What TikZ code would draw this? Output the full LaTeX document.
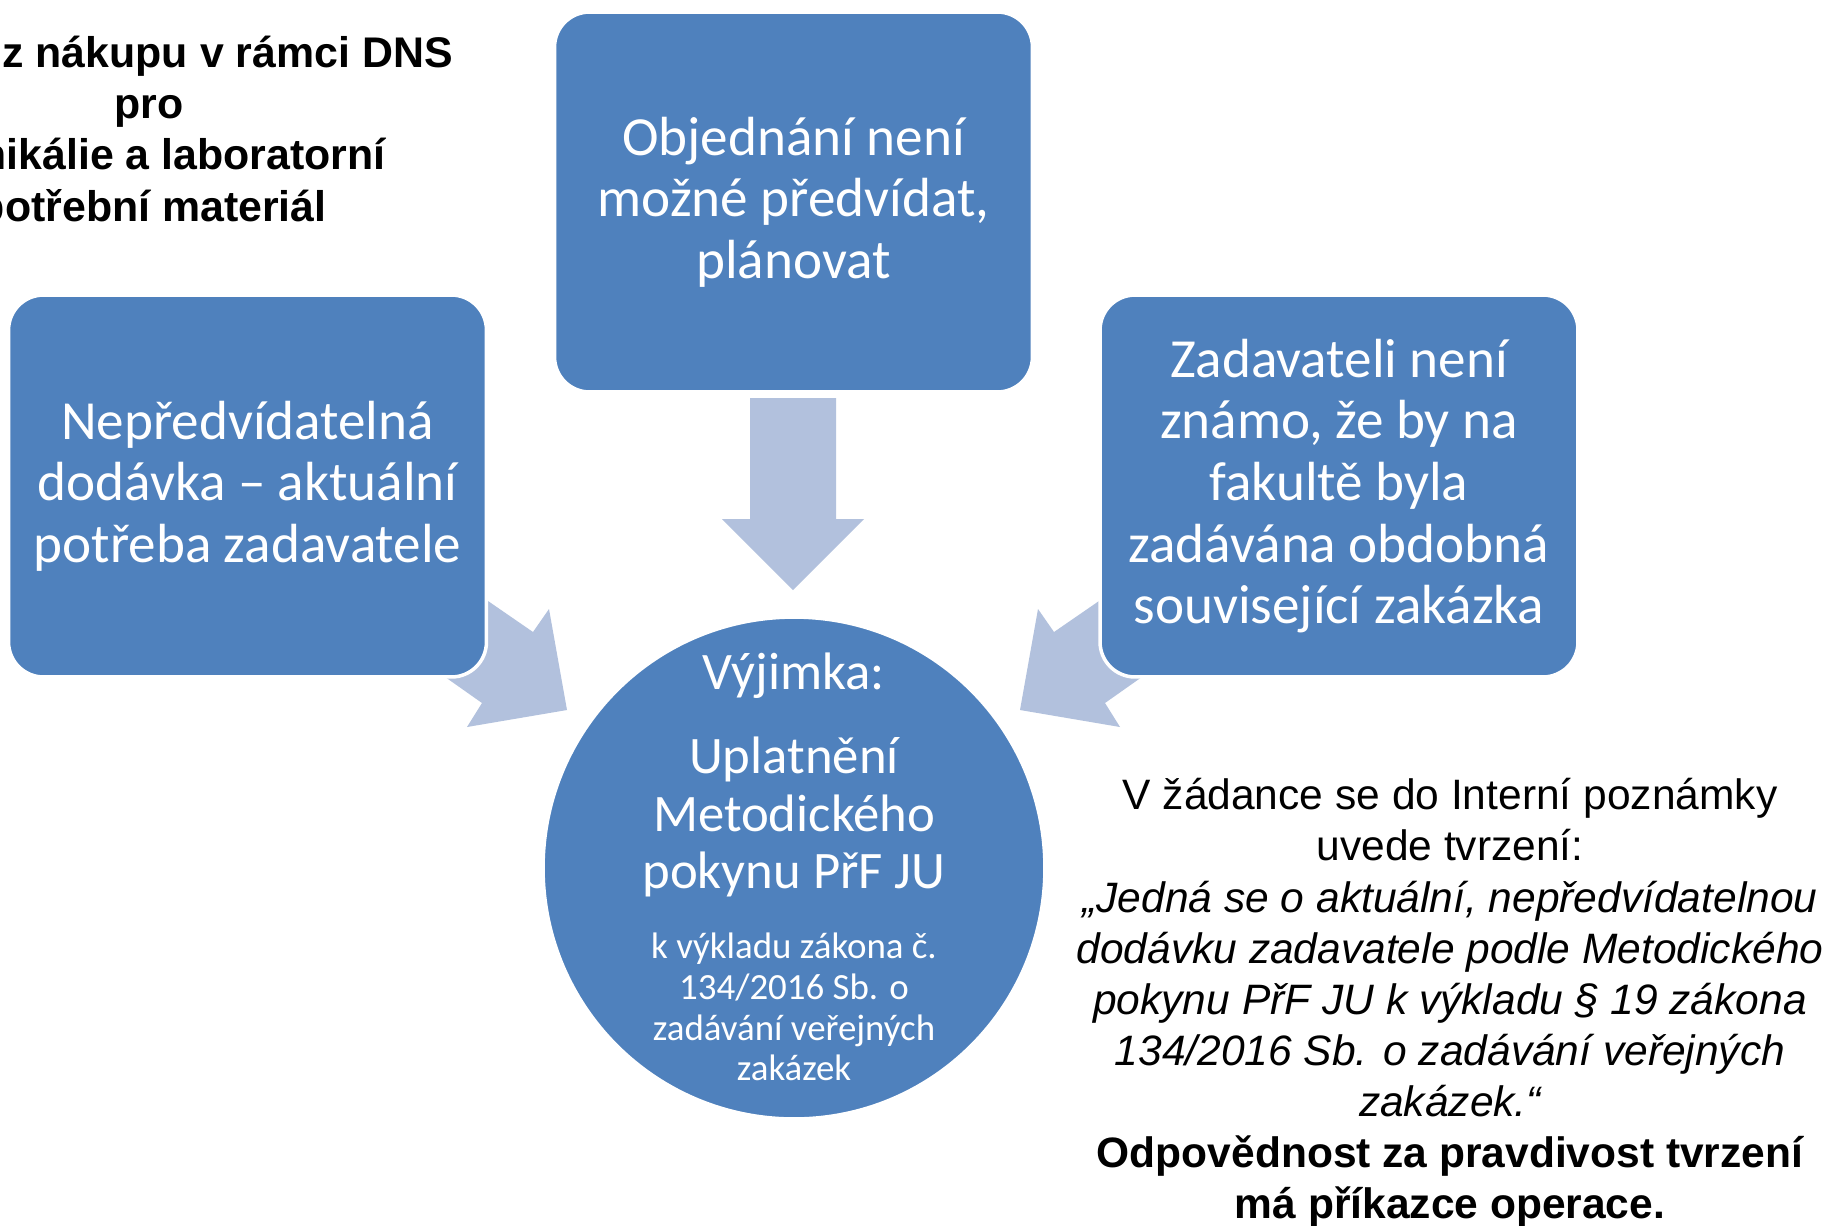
\documentclass[tikz,border=0pt]{standalone}
\usepackage{fontspec}
\setmainfont{Liberation Sans}
\newfontfamily\calfont{Carlito}
\definecolor{boxblue}{HTML}{4F81BD}
\definecolor{arrowblue}{HTML}{B2C1DD}
\begin{document}
\begin{tikzpicture}[x=0.02cm,y=-0.02cm,
  box/.style={rectangle, rounded corners=0.7cm, fill=boxblue, draw=white, line width=2pt,
    inner sep=0pt, text=white, align=center, font=\calfont\fontsize{31.4}{35.1}\selectfont},
  bigarrow/.style={fill=arrowblue, draw=none},
  ctext/.style={text=white, align=center, inner sep=0pt, font=\calfont\fontsize{30}{32.9}\selectfont},
  csmall/.style={text=white, align=center, inner sep=0pt, font=\calfont\fontsize{21}{23.2}\selectfont},
  toptext/.style={inner sep=0pt, font=\bfseries\fontsize{24.4}{28.9}\selectfont},
  note/.style={inner sep=0pt, align=center, font=\fontsize{24.2}{29.1}\selectfont}]
\useasboundingbox (0,0) rectangle (1829,1225);
\clip (0,0) rectangle (1829,1225);
\fill[white] (0,0) rectangle (1829,1225);

% block arrows
\fill[bigarrow] (750,398) -- (750,519) -- (722,519) -- (793,590) -- (864,519) -- (836,519) -- (836,398) -- cycle;
\fill[bigarrow] (443,570) -- (533,632) -- (549,609) -- (567,710) -- (467,727) -- (482,703) -- (404,648) -- cycle;
\fill[bigarrow] (1144,570) -- (1054,632) -- (1038,609) -- (1020,710) -- (1120,727) -- (1105,703) -- (1183,648) -- cycle;

% boxes
\node[box, minimum width=9.56cm, minimum height=7.6cm] (top) at (793.5,202)
  {Objednání není\\možné předvídat,\\plánovat};
\node[box, minimum width=9.56cm, minimum height=7.64cm] (left) at (247.5,486)
  {Nepředvídatelná\\dodávka – aktuální\\potřeba zadavatele};
\node[box, minimum width=9.56cm, minimum height=7.64cm] (right) at (1339,486)
  {Zadavateli není\\známo, že by na\\fakultě byla\\zadávána obdobná\\související zakázka};

% circle
\node[circle, minimum size=10.04cm, fill=boxblue, draw=white, line width=2pt, inner sep=0pt] (exc) at (794,868) {};
\node[ctext] (vyj) at (794,676) {Výjimka:};
\node[ctext] (upl) at (794,817) {Uplatnění\\Metodického\\pokynu PřF JU};
\node[csmall] (vyk) at (794,1007) {k výkladu zákona č.\\134/2016 Sb. o\\zadávání veřejných\\zakázek};

% top-left title (cut at the left edge)
\node[toptext, anchor=base east] (t1) at (453,67) {z nákupu v rámci DNS};
\node[toptext, anchor=base] (t2) at (149,118) {pro};
\node[toptext, anchor=base east] (t3) at (386,169) {chemikálie a laboratorní};
\node[toptext, anchor=base east] (t4) at (327,221) {spotřební materiál};

% note at bottom right
\node[note] (note) at (1450,1003)
  {V žádance se do Interní poznámky\\
   uvede tvrzení:\\
   \itshape „Jedná se o aktuální, nepředvídatelnou\\
   \itshape dodávku zadavatele podle Metodického\\
   \itshape pokynu PřF JU k výkladu § 19 zákona\\
   \itshape 134/2016 Sb. o zadávání veřejných\\
   \itshape zakázek.“\\
   \bfseries Odpovědnost za pravdivost tvrzení\\
   \bfseries má příkazce operace.};
\end{tikzpicture}
\end{document}
